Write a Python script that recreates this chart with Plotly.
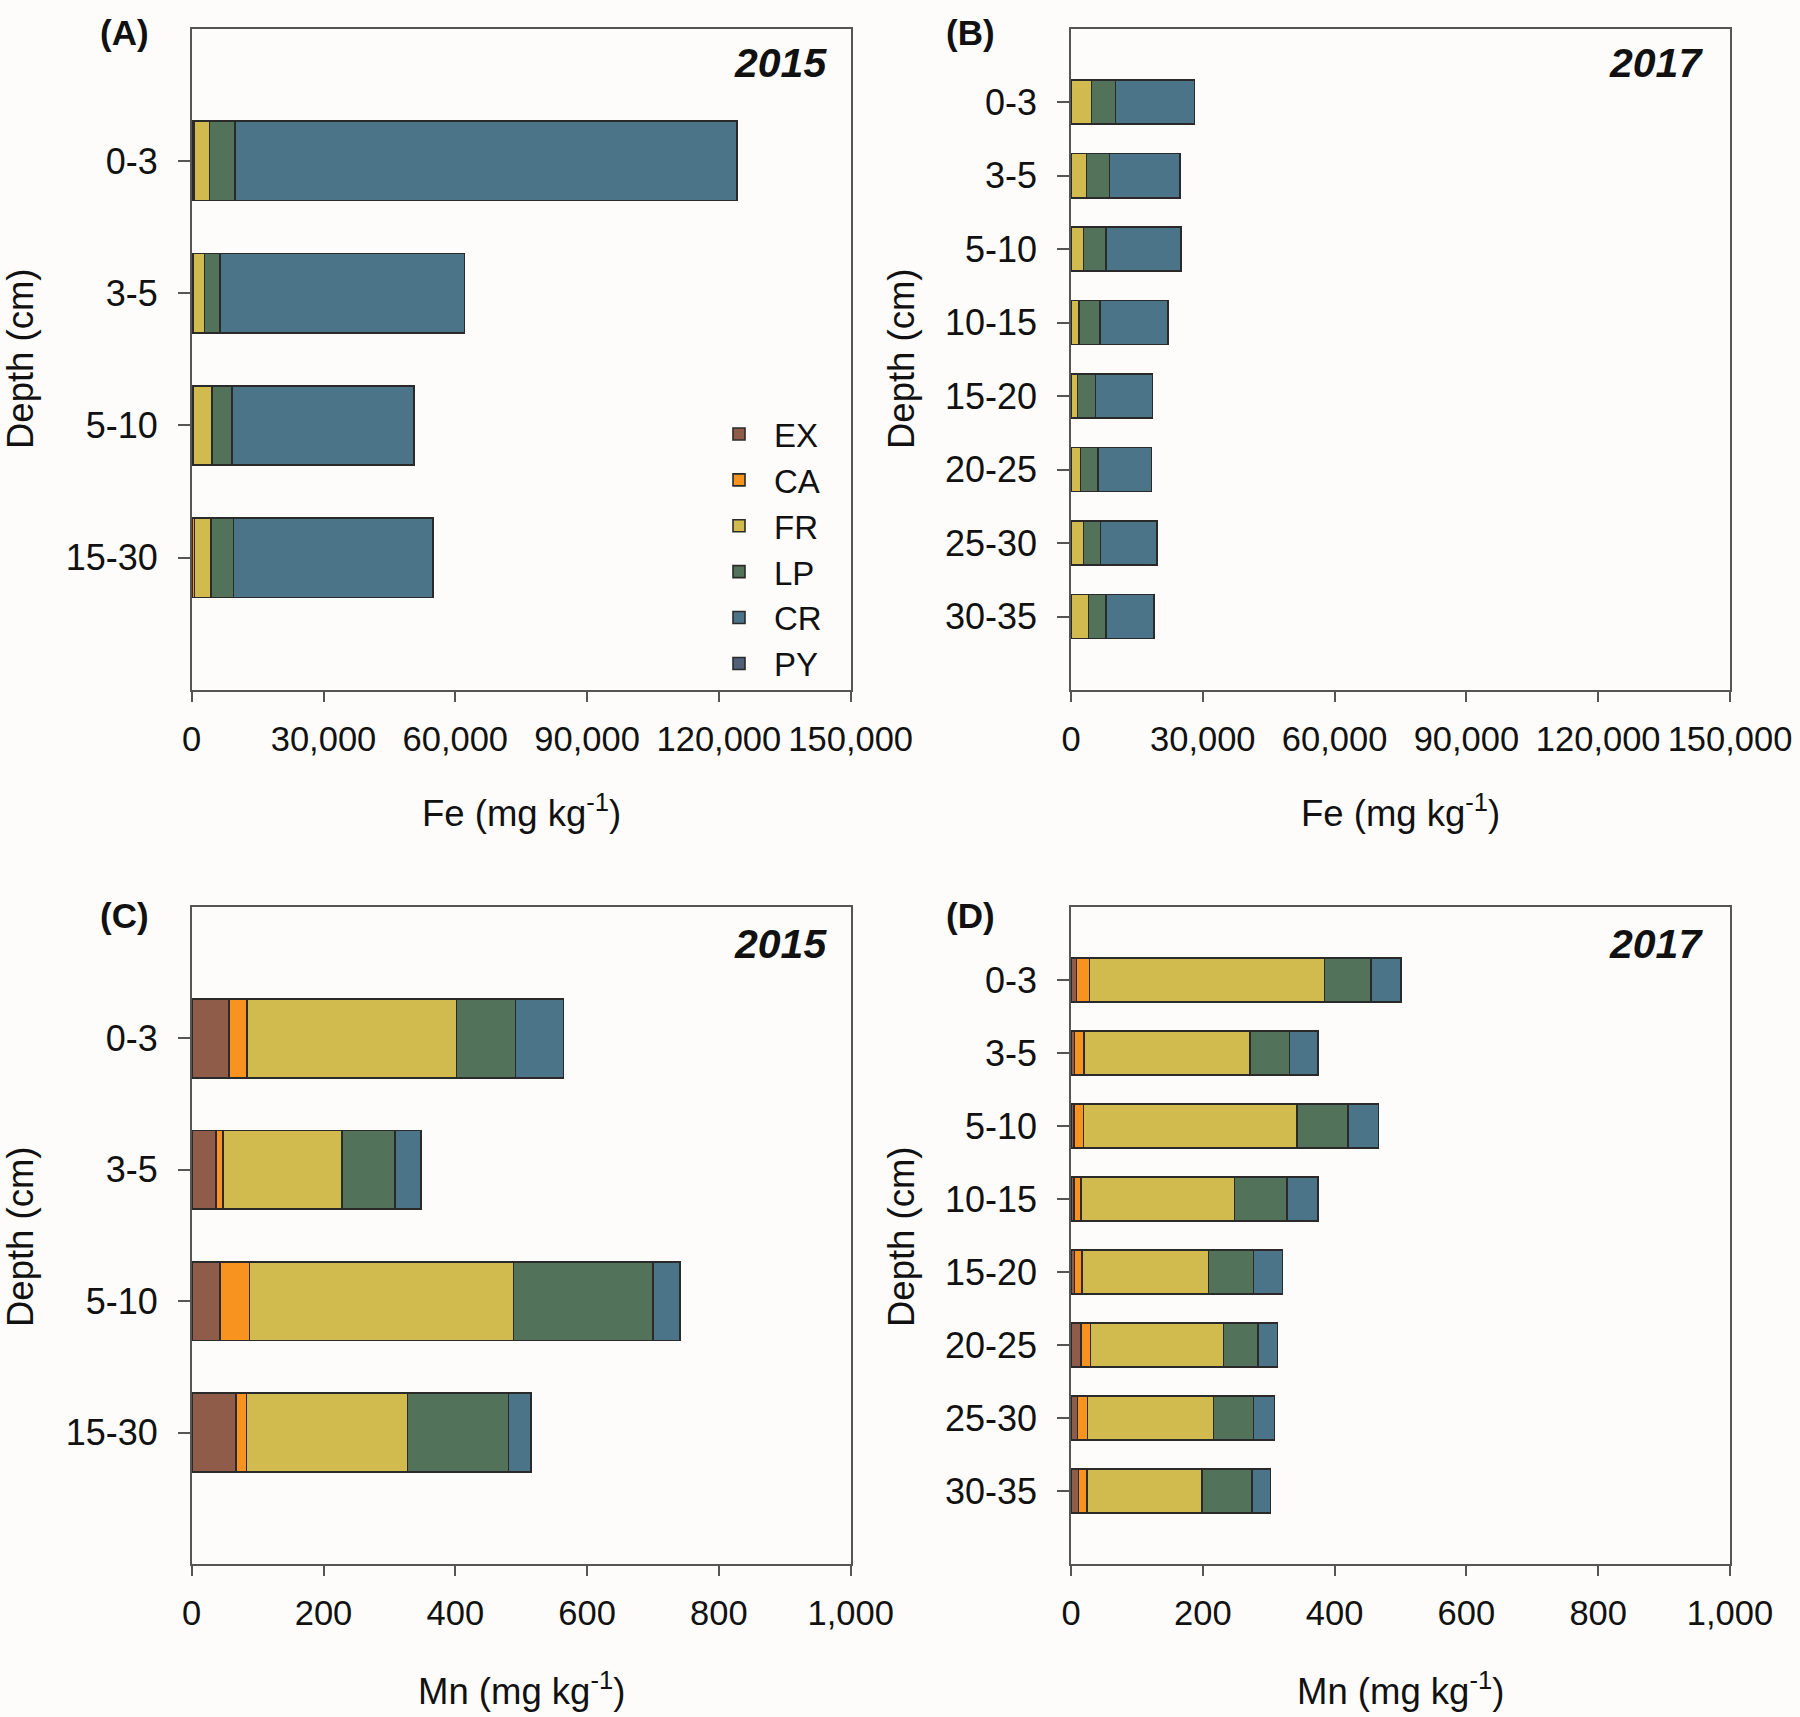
import plotly.graph_objects as go

# ---------------- data ----------------
fractions = ["EX", "CA", "FR", "LP", "CR", "PY"]
colors = {"EX": "#8f5c4a", "CA": "#f7931e", "FR": "#d1bb4f",
          "LP": "#52725a", "CR": "#4b7489", "PY": "#525f78"}

depth_2015 = ["0-3", "3-5", "5-10", "15-30"]
depth_2017 = ["0-3", "3-5", "5-10", "10-15", "15-20", "20-25", "25-30", "30-35"]

# Fe 2015 (mg/kg)
fe15_EX = [250, 150, 150, 200]
fe15_CA = [350, 150, 200, 400]
fe15_FR = [3450, 2640, 4315, 3860]
fe15_LP = [5780, 3550, 4560, 5070]
fe15_CR = [114300, 55580, 41380, 45440]
fe15_PY = [0, 0, 0, 0]

# Fe 2017 (mg/kg)
fe17_EX = [50, 50, 40, 40, 40, 40, 40, 50]
fe17_CA = [100, 80, 80, 70, 70, 80, 80, 90]
fe17_FR = [4556, 3437, 2688, 1712, 1408, 2005, 2688, 3883]
fe17_LP = [5465, 5237, 5162, 4781, 4099, 4023, 3947, 3947]
fe17_CR = [17912, 16015, 17077, 15408, 12903, 12144, 12751, 10853]
fe17_PY = [0, 0, 0, 0, 0, 0, 0, 0]

# Mn 2015 (mg/kg)
mn15_EX = [56.8, 36.5, 42.6, 66.9]
mn15_CA = [27.0, 10.8, 45.3, 16.3]
mn15_FR = [317.8, 180.5, 400.2, 244.0]
mn15_LP = [89.9, 80.5, 211.7, 153.5]
mn15_CR = [72.4, 39.2, 41.2, 34.5]
mn15_PY = [0, 0, 0, 0]

# Mn 2017 (mg/kg)
mn17_EX = [8.6, 5.6, 4.6, 4.6, 5.6, 15.2, 10.1, 11.6]
mn17_CA = [19.2, 14.1, 14.6, 10.6, 11.1, 14.6, 15.2, 12.7]
mn17_FR = [356.6, 251.9, 323.7, 232.6, 192.2, 201.8, 191.2, 174.5]
mn17_LP = [70.8, 59.7, 77.4, 80.0, 68.3, 52.1, 60.7, 75.8]
mn17_CR = [45.5, 43.5, 46.6, 47.0, 44.0, 29.9, 31.3, 27.9]
mn17_PY = [0, 0, 0, 0, 0, 0, 0, 0]

fe_ticks = [0, 30000, 60000, 90000, 120000, 150000]
mn_ticks = [0, 200, 400, 600, 800, 1000]

panels = [
    ("x", "y", depth_2015, dict(EX=fe15_EX, CA=fe15_CA, FR=fe15_FR, LP=fe15_LP, CR=fe15_CR, PY=fe15_PY), True),
    ("x2", "y2", depth_2017, dict(EX=fe17_EX, CA=fe17_CA, FR=fe17_FR, LP=fe17_LP, CR=fe17_CR, PY=fe17_PY), False),
    ("x3", "y3", depth_2015, dict(EX=mn15_EX, CA=mn15_CA, FR=mn15_FR, LP=mn15_LP, CR=mn15_CR, PY=mn15_PY), False),
    ("x4", "y4", depth_2017, dict(EX=mn17_EX, CA=mn17_CA, FR=mn17_FR, LP=mn17_LP, CR=mn17_CR, PY=mn17_PY), False),
]

FONT = "Liberation Sans, Arial, sans-serif"
W, H = 1800, 1717

fig = go.Figure()
for xa, ya, depths, vals, show in panels:
    for f in fractions:
        fig.add_trace(go.Bar(
            x=vals[f], y=depths, orientation="h", name=f,
            xaxis=xa, yaxis=ya, width=0.6,
            marker=dict(color=colors[f], line=dict(color="#2a2a2a", width=1.6)),
            showlegend=show, legendgroup=f,
        ))

# panel geometry (pixels)
left_x = (191.7 / W, 850.7 / W)
right_x = (1071.0 / W, 1730.0 / W)
top_y = (1 - 690.0 / H, 1 - 28.7 / H)
bot_y = (1 - 1564.0 / H, 1 - 907.0 / H)

axis_common = dict(showline=True, mirror=True, linecolor="#555555", linewidth=1.5,
                   ticks="outside", tickcolor="#555555", tickwidth=1.5,
                   showgrid=False, zeroline=False, automargin=False)


def xaxis(domain, anchor, rng, tickvals):
    d = dict(axis_common)
    d.update(domain=domain, anchor=anchor, range=rng, tickvals=tickvals,
             tickformat=",d", ticklen=10, ticklabelstandoff=8,
             tickfont=dict(family=FONT, size=34.5, color="#111111"))
    return d


def yaxis(domain, anchor, cats):
    d = dict(axis_common)
    d.update(domain=domain, anchor=anchor, type="category",
             categoryorder="array", categoryarray=cats,
             range=[len(cats), -1], ticklen=12, ticklabelstandoff=13,
             tickfont=dict(family=FONT, size=36, color="#111111"))
    return d


fig.update_layout(
    width=W, height=H, autosize=False,
    margin=dict(l=0, r=0, t=0, b=0, pad=0, autoexpand=False),
    paper_bgcolor="#fdfcfb", plot_bgcolor="#fdfcfb",
    barmode="stack", bargap=0.4,
    font=dict(family=FONT, size=34, color="#111111"),
    xaxis=xaxis(left_x, "y", [0, 150000], fe_ticks),
    yaxis=yaxis(top_y, "x", depth_2015),
    xaxis2=xaxis(right_x, "y2", [0, 150000], fe_ticks),
    yaxis2=yaxis(top_y, "x2", depth_2017),
    xaxis3=xaxis(left_x, "y3", [0, 1000], mn_ticks),
    yaxis3=yaxis(bot_y, "x3", depth_2015),
    xaxis4=xaxis(right_x, "y4", [0, 1000], mn_ticks),
    yaxis4=yaxis(bot_y, "x4", depth_2017),
    legend=dict(x=704 / W, y=1 - 406 / H, xanchor="left", yanchor="top",
                traceorder="normal", bgcolor="rgba(0,0,0,0)",
                font=dict(family=FONT, size=33, color="#111111"),
                tracegroupgap=0, itemwidth=60),
)

ann = []
# axis titles
for xc in (521 / W, 1400.5 / W):
    ann.append(dict(text="Fe (mg kg<sup>-1</sup>)", x=xc, y=1 - 811 / H))
    ann.append(dict(text="Mn (mg kg<sup>-1</sup>)", x=xc, y=1 - 1689 / H))
for xc in (20 / W, 901 / W):
    ann.append(dict(text="Depth (cm)", x=xc, y=1 - 359 / H, textangle=-90))
    ann.append(dict(text="Depth (cm)", x=xc, y=1 - 1237 / H, textangle=-90))
for a in ann:
    a.update(xref="paper", yref="paper", showarrow=False, xanchor="center", yanchor="middle",
             font=dict(family=FONT, size=36.5, color="#111111"))

labels = [("(A)", 124, 32), ("(B)", 970, 32), ("(C)", 124, 916), ("(D)", 970, 916)]
for t, px, py in labels:
    ann.append(dict(text="<b>%s</b>" % t, x=px / W, y=1 - py / H, xref="paper", yref="paper",
                    showarrow=False, xanchor="center", yanchor="middle",
                    font=dict(family=FONT, size=35, color="#111111")))

years = [("2015", 829, 63), ("2017", 1705, 63), ("2015", 829, 944), ("2017", 1705, 944)]
for t, px, py in years:
    ann.append(dict(text="<b><i>%s</i></b>" % t, x=px / W, y=1 - py / H, xref="paper", yref="paper",
                    showarrow=False, xanchor="right", yanchor="middle",
                    font=dict(family=FONT, size=41, color="#111111")))

fig.update_layout(annotations=ann)
fig.write_html(
    "out.html",
    config={"responsive": False, "displayModeBar": False},
    default_width="1800px", default_height="1717px",
    post_script="document.body.style.margin='0';document.body.style.overflow='hidden';",
)
